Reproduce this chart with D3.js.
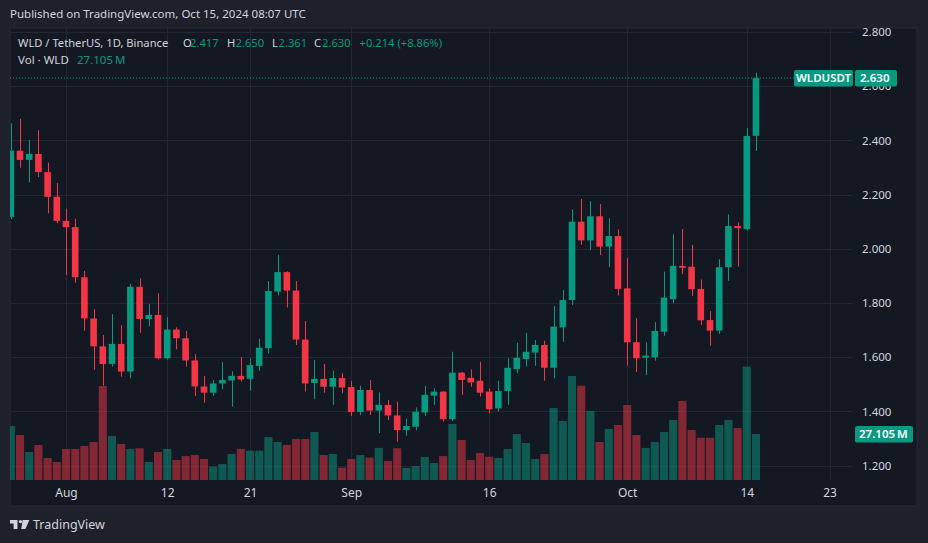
<!DOCTYPE html>
<html>
<head>
<meta charset="utf-8">
<script src="https://cdn.jsdelivr.net/npm/d3@7"></script>
<style>
  body { margin: 0; background: #1e212b; }
  svg { display: block; font-family: "Noto Sans", sans-serif; }
</style>
</head>
<body>
<svg id="chart"></svg>
<script>
// daily WLD/USDT candles, Jul 26 -> Oct 15 2024
const firstDay = "2024-07-26"
const lastDay = "2024-10-15"

const opens = [2.117, 2.362, 2.328, 2.350, 2.283, 2.192, 2.103, 2.080, 1.895, 1.743,
  1.640, 1.575, 1.649, 1.547, 1.860, 1.741, 1.756, 1.596, 1.702, 1.670,
  1.588, 1.492, 1.469, 1.503, 1.514, 1.531, 1.520, 1.568, 1.633, 1.842,
  1.914, 1.846, 1.665, 1.505, 1.520, 1.491, 1.523, 1.490, 1.398, 1.479,
  1.403, 1.424, 1.385, 1.331, 1.343, 1.396, 1.458, 1.473, 1.371, 1.543,
  1.524, 1.513, 1.473, 1.411, 1.475, 1.556, 1.593, 1.617, 1.645, 1.561,
  1.710, 1.811, 2.100, 2.031, 2.120, 2.008, 2.047, 1.854, 1.655, 1.598,
  1.600, 1.694, 1.814, 1.937, 1.934, 1.852, 1.737, 1.698, 1.932, 2.084,
  2.073, 2.417]
const highs = [2.463, 2.479, 2.401, 2.438, 2.318, 2.242, 2.148, 2.111, 1.918, 1.777,
  1.682, 1.759, 1.718, 1.870, 1.891, 1.797, 1.836, 1.747, 1.710, 1.697,
  1.611, 1.531, 1.516, 1.582, 1.549, 1.600, 1.596, 1.668, 1.881, 1.977,
  1.917, 1.881, 1.734, 1.590, 1.575, 1.550, 1.541, 1.513, 1.495, 1.516,
  1.470, 1.442, 1.436, 1.374, 1.415, 1.494, 1.485, 1.475, 1.620, 1.545,
  1.555, 1.583, 1.485, 1.513, 1.596, 1.653, 1.690, 1.663, 1.661, 1.789,
  1.848, 2.146, 2.184, 2.176, 2.165, 2.113, 2.072, 1.965, 1.744, 1.655,
  1.729, 1.916, 2.055, 2.073, 2.014, 1.887, 1.770, 1.962, 2.127, 2.098,
  2.445, 2.650]
const lows = [2.110, 2.299, 2.244, 2.265, 2.131, 2.094, 1.903, 1.875, 1.698, 1.553,
  1.495, 1.565, 1.528, 1.522, 1.690, 1.713, 1.592, 1.592, 1.629, 1.565,
  1.457, 1.432, 1.457, 1.482, 1.417, 1.510, 1.476, 1.550, 1.614, 1.828,
  1.783, 1.645, 1.473, 1.445, 1.469, 1.424, 1.467, 1.383, 1.386, 1.387,
  1.320, 1.368, 1.288, 1.310, 1.330, 1.383, 1.424, 1.362, 1.365, 1.461,
  1.491, 1.454, 1.393, 1.399, 1.424, 1.541, 1.565, 1.568, 1.513, 1.522,
  1.657, 1.793, 2.014, 1.996, 1.977, 1.932, 1.828, 1.569, 1.546, 1.534,
  1.587, 1.679, 1.799, 1.906, 1.826, 1.719, 1.642, 1.686, 1.882, 1.934,
  2.067, 2.361]
const closes = [2.362, 2.328, 2.350, 2.283, 2.192, 2.103, 2.080, 1.895, 1.743, 1.640,
  1.575, 1.649, 1.547, 1.860, 1.741, 1.756, 1.596, 1.702, 1.670, 1.588,
  1.492, 1.469, 1.503, 1.516, 1.531, 1.518, 1.571, 1.635, 1.844, 1.914,
  1.846, 1.665, 1.503, 1.520, 1.491, 1.523, 1.488, 1.398, 1.479, 1.403,
  1.424, 1.385, 1.331, 1.346, 1.399, 1.461, 1.473, 1.371, 1.543, 1.516,
  1.507, 1.469, 1.408, 1.475, 1.561, 1.598, 1.620, 1.645, 1.561, 1.713,
  1.811, 2.100, 2.031, 2.120, 2.008, 2.047, 1.852, 1.655, 1.596, 1.606,
  1.697, 1.820, 1.937, 1.930, 1.851, 1.736, 1.698, 1.932, 2.084, 2.076,
  2.416, 2.630]
// volume in millions of WLD
const volumes = [31.8, 26.5, 16.5, 20.6, 13.0, 10.6, 18.3, 18.3, 20.0, 22.4,
  55.4, 25.9, 21.2, 18.3, 18.7, 10.6, 16.5, 18.3, 11.8, 14.1,
  14.7, 12.4, 7.9, 9.4, 15.3, 18.3, 17.3, 17.3, 25.3, 22.4,
  20.6, 24.2, 24.2, 28.3, 14.7, 15.3, 7.3, 12.4, 14.7, 13.2,
  18.9, 11.2, 18.7, 7.1, 8.2, 13.6, 10.0, 14.1, 33.0, 23.6,
  11.8, 15.9, 13.7, 13.0, 18.3, 27.1, 21.8, 12.4, 15.3, 42.4,
  34.8, 61.3, 55.6, 40.7, 22.4, 30.1, 32.4, 44.2, 26.5, 18.9,
  22.4, 28.3, 35.4, 46.6, 29.5, 24.9, 24.9, 32.4, 35.4, 30.6,
  66.8, 27.105]

const priceTicks = [1.2, 1.4, 1.6, 1.8, 2.0, 2.2, 2.4, 2.6, 2.8]
const timeTicks = ["2024-08-01", "2024-08-12", "2024-08-21", "2024-09-01",
  "2024-09-16", "2024-10-01", "2024-10-14", "2024-10-23"]
const timeTickLabels = ["Aug", "12", "21", "Sep", "16", "Oct", "14", "23"]

const lastClose = 2.630
const lastVolume = 27.105

const width = 928
const height = 543
const plot = {left: 10, right: 852, top: 28, bottom: 480}

const upColor = "#089981"
const downColor = "#f23645"
const gridColor = "#232733"
const textColor = "#d1d4dc"

const days = d3.utcDay.range(new Date(firstDay), d3.utcDay.offset(new Date(lastDay), 1))
const candles = days.map((d, i) => ({
  date: d, o: opens[i], h: highs[i], l: lows[i], c: closes[i], v: volumes[i]
}))

const x = d3.scaleUtc()
  .domain([new Date(firstDay), new Date(lastDay)])
  .range([10.8, 756])
const y = d3.scaleLinear().domain([1.2, 2.8]).range([465.6, 32])
const yVol = d3.scaleLinear().domain([0, lastVolume]).range([plot.bottom, 434])

const step = x(days[1]) - x(days[0])
const bodyW = step * 0.72
const volW = step * 0.88

const svg = d3.select("#chart")
  .attr("width", width)
  .attr("height", height)

svg.append("defs").append("clipPath")
  .attr("id", "plotclip")
  .append("rect")
  .attr("x", plot.left).attr("y", plot.top)
  .attr("width", plot.right - plot.left).attr("height", plot.bottom - plot.top)

// header
svg.append("text")
  .attr("x", 10).attr("y", 18)
  .attr("fill", textColor)
  .attr("font-size", 11.5)
  .text("Published on TradingView.com, Oct 15, 2024 08:07 UTC")

// chart frame
svg.append("rect")
  .attr("x", 10).attr("y", 28)
  .attr("width", 907).attr("height", 478)
  .attr("fill", "#141823")
  .attr("stroke", "#262a35")

// grid
const grid = svg.append("g").attr("clip-path", "url(#plotclip)")
grid.selectAll(".hgrid")
  .data(priceTicks)
  .enter().append("line")
  .attr("x1", plot.left).attr("x2", plot.right)
  .attr("y1", d => Math.round(y(d)) + 0.5)
  .attr("y2", d => Math.round(y(d)) + 0.5)
  .attr("stroke", gridColor)
grid.selectAll(".vgrid")
  .data(timeTicks)
  .enter().append("line")
  .attr("x1", d => Math.round(x(new Date(d))) + 0.5)
  .attr("x2", d => Math.round(x(new Date(d))) + 0.5)
  .attr("y1", plot.top).attr("y2", plot.bottom)
  .attr("stroke", gridColor)

const marks = svg.append("g").attr("clip-path", "url(#plotclip)")

// volume bars
marks.selectAll(".vol")
  .data(candles)
  .enter().append("rect")
  .attr("x", d => x(d.date) - volW / 2)
  .attr("width", volW)
  .attr("y", d => yVol(d.v))
  .attr("height", d => plot.bottom - yVol(d.v))
  .attr("fill", d => d.c >= d.o ? upColor : downColor)
  .attr("fill-opacity", 0.5)

// wicks
marks.selectAll(".wick")
  .data(candles)
  .enter().append("line")
  .attr("x1", d => Math.round(x(d.date)) + 0.5)
  .attr("x2", d => Math.round(x(d.date)) + 0.5)
  .attr("y1", d => y(d.h))
  .attr("y2", d => y(d.l))
  .attr("stroke", d => d.c >= d.o ? upColor : downColor)

// bodies
marks.selectAll(".body")
  .data(candles)
  .enter().append("rect")
  .attr("x", d => x(d.date) - bodyW / 2)
  .attr("width", bodyW)
  .attr("y", d => y(Math.max(d.o, d.c)))
  .attr("height", d => Math.max(1, Math.abs(y(d.o) - y(d.c))))
  .attr("fill", d => d.c >= d.o ? upColor : downColor)

// last price dotted line
marks.append("line")
  .attr("x1", plot.left).attr("x2", plot.right)
  .attr("y1", y(lastClose)).attr("y2", y(lastClose))
  .attr("stroke", upColor)
  .attr("stroke-dasharray", "1,2")

// price axis
const yAxis = svg.append("g")
  .attr("transform", `translate(${plot.right},0)`)
  .call(d3.axisRight(y).tickValues(priceTicks).tickFormat(d3.format(".3f")).tickSize(0).tickPadding(10))
yAxis.select(".domain").remove()
yAxis.selectAll("text")
  .attr("fill", textColor)
  .attr("font-size", 11.5)
  .attr("font-family", "Noto Sans, sans-serif")

// time axis
const xAxis = svg.append("g")
  .attr("transform", `translate(0,${plot.bottom})`)
  .call(d3.axisBottom(x)
    .tickValues(timeTicks.map(d => new Date(d)))
    .tickFormat((d, i) => timeTickLabels[i])
    .tickSize(0).tickPadding(8.5))
xAxis.select(".domain").remove()
xAxis.selectAll("text")
  .attr("fill", textColor)
  .attr("font-size", 12)
  .attr("font-family", "Noto Sans, sans-serif")

// price labels on the right
const py = y(lastClose)
svg.append("rect")
  .attr("x", 794).attr("y", py - 8)
  .attr("width", 59).attr("height", 16.5)
  .attr("rx", 2)
  .attr("fill", upColor)
svg.append("text")
  .attr("x", 823.5).attr("y", py + 4.2)
  .attr("text-anchor", "middle")
  .attr("fill", "#ffffff")
  .attr("font-size", 11.5)
  .attr("font-weight", 600)
  .text("WLDUSDT")
svg.append("rect")
  .attr("x", 855).attr("y", py - 8)
  .attr("width", 42).attr("height", 16.5)
  .attr("rx", 2)
  .attr("fill", upColor)
svg.append("text")
  .attr("x", 860).attr("y", py + 4.2)
  .attr("fill", "#ffffff")
  .attr("font-size", 11.5)
  .attr("font-weight", 600)
  .text(d3.format(".3f")(lastClose))

const vy = yVol(lastVolume)
svg.append("rect")
  .attr("x", 855).attr("y", vy - 8)
  .attr("width", 58).attr("height", 16.5)
  .attr("rx", 2)
  .attr("fill", upColor)
svg.append("text")
  .attr("x", 859).attr("y", vy + 4.2)
  .attr("fill", "#ffffff")
  .attr("font-size", 11.5)
  .attr("font-weight", 600)
  .text(d3.format(".3f")(lastVolume) + "\u202FM")

// legend
const legend = [
  {t: "WLD / TetherUS, 1D, Binance", x: 18, c: textColor},
  {t: "O", x: 183, c: textColor}, {t: "2.417", x: 190, c: upColor},
  {t: "H", x: 227, c: textColor}, {t: "2.650", x: 235.5, c: upColor},
  {t: "L", x: 272, c: textColor}, {t: "2.361", x: 278.5, c: upColor},
  {t: "C", x: 314, c: textColor}, {t: "2.630", x: 322, c: upColor},
  {t: "+0.214 (+8.86%)", x: 359.5, c: upColor}
]
svg.selectAll(".leg")
  .data(legend)
  .enter().append("text")
  .attr("x", d => d.x).attr("y", 46.5)
  .attr("fill", d => d.c)
  .attr("font-size", 11.2)
  .text(d => d.t)
svg.append("text")
  .attr("x", 18).attr("y", 63.5)
  .attr("fill", textColor)
  .attr("font-size", 11.5)
  .text("Vol · WLD")
svg.append("text")
  .attr("x", 77).attr("y", 63.5)
  .attr("fill", upColor)
  .attr("font-size", 11.5)
  .text("27.105\u202FM")

// TradingView logo
const logo = svg.append("g").attr("fill", textColor)
logo.append("path").attr("d", "M10,520 H17.5 V529 H13.6 V523.6 H10 Z")
logo.append("circle").attr("cx", 20.4).attr("cy", 521.6).attr("r", 1.7)
logo.append("path").attr("d", "M22.6,520 H29.4 L25.4,529 H21.2 Z")
svg.append("text")
  .attr("x", 33).attr("y", 528.5)
  .attr("fill", textColor)
  .attr("font-size", 12.5)
  .text("TradingView")
</script>
</body>
</html>
